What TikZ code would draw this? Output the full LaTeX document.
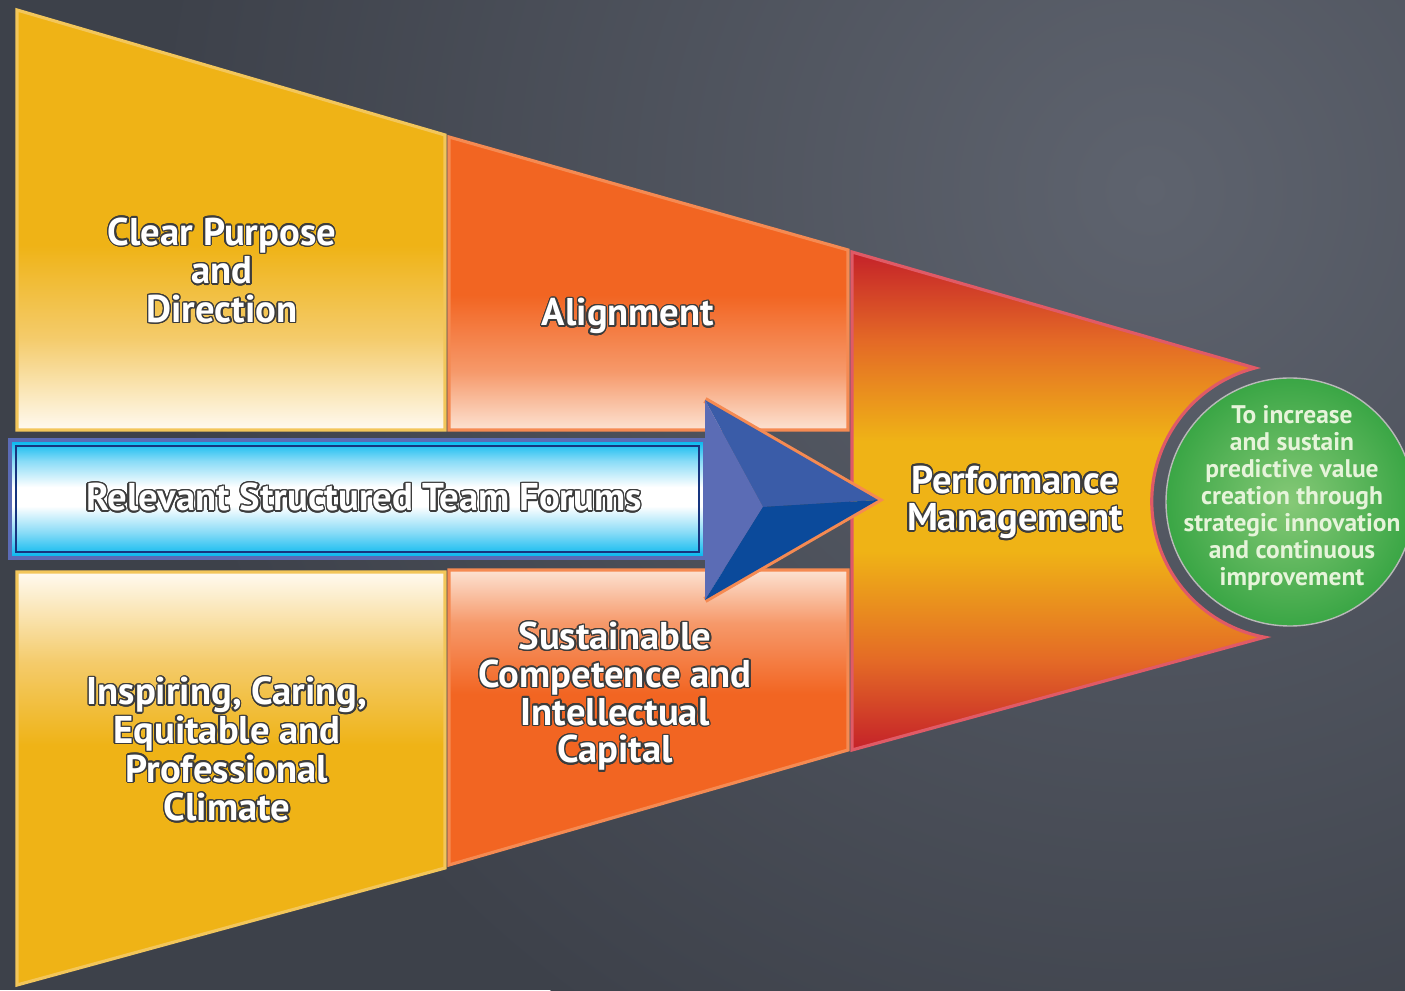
\documentclass[tikz,border=0pt]{standalone}
\usepackage{fontspec}
\setmainfont{PT Sans}
\usepackage[copies]{contour}
\contourlength{0.8pt}
\contournumber{20}
\usetikzlibrary{positioning,calc}

\definecolor{bgdark}{HTML}{3D414A}
\definecolor{bglight}{HTML}{5E636E}
\definecolor{gold}{HTML}{EFB316}
\definecolor{goldmid}{HTML}{F4CB6A}
\definecolor{goldedge}{HTML}{F3C65A}
\definecolor{cream}{HTML}{FFFAF0}
\definecolor{orng}{HTML}{F26522}
\definecolor{orngmid}{HTML}{F6996A}
\definecolor{peach}{HTML}{FCE2D2}
\definecolor{orngedge}{HTML}{F58A52}
\definecolor{redd}{HTML}{C42129}
\definecolor{redorng}{HTML}{E46A26}
\definecolor{redege}{HTML}{E05A66}
\definecolor{cyanb}{HTML}{00B6EE}
\definecolor{cyanl}{HTML}{8ADCF7}
\definecolor{navy}{HTML}{17357F}
\definecolor{arrowedge}{HTML}{5B6BB6}
\definecolor{facettop}{HTML}{3A5CA8}
\definecolor{facetleft}{HTML}{5B6CB5}
\definecolor{facetlow}{HTML}{0B4A9B}
\definecolor{greenlight}{HTML}{86C977}
\definecolor{greendark}{HTML}{3AA645}
\definecolor{greentext}{HTML}{E6F4DA}
\definecolor{textedge}{HTML}{3C3C3C}

\pgfdeclareverticalshading{goldtop}{100bp}{color(0bp)=(cream); color(25bp)=(cream); color(36bp)=(goldmid); color(47bp)=(gold); color(100bp)=(gold)}
\pgfdeclareverticalshading{goldbottom}{100bp}{color(0bp)=(gold); color(54bp)=(gold); color(64bp)=(goldmid); color(75bp)=(cream); color(100bp)=(cream)}
\pgfdeclareverticalshading{orangetop}{100bp}{color(0bp)=(peach); color(25bp)=(peach); color(35bp)=(orngmid); color(48bp)=(orng); color(100bp)=(orng)}
\pgfdeclareverticalshading{orangebottom}{100bp}{color(0bp)=(orng); color(54bp)=(orng); color(66bp)=(orngmid); color(75bp)=(peach); color(100bp)=(peach)}
\pgfdeclareverticalshading{perf}{100bp}{color(0bp)=(redd); color(25bp)=(redd); color(34bp)=(redorng); color(45bp)=(gold); color(56bp)=(gold); color(66bp)=(redorng); color(75bp)=(redd); color(100bp)=(redd)}
\pgfdeclareverticalshading{tube}{100bp}{color(0bp)=(cyanb); color(25bp)=(cyanb); color(36bp)=(cyanl); color(47bp)=(white); color(55bp)=(white); color(66bp)=(cyanl); color(75bp)=(cyanb); color(100bp)=(cyanb)}

\newcommand{\olt}[1]{\contour{textedge}{#1}}

\begin{document}
\begin{tikzpicture}[x=0.02cm,y=0.02cm,
panel text/.style={text=white,align=center,font=\bfseries\fontsize{22}{22}\selectfont},
big text/.style={text=white,align=center,font=\bfseries\fontsize{22}{21.5}\selectfont},
green text/.style={text=greentext,align=center,font=\bfseries\fontsize{14.5}{15.3}\selectfont},
gold edge/.style={draw=goldedge,line width=1.8pt},
orange edge/.style={draw=orngedge,line width=1.8pt}]
% background
  \fill[bgdark] (0,0) rectangle (1405,990);
  \begin{scope}
    \clip (0,0) rectangle (1405,990);
    \shade[inner color=bglight,outer color=bgdark] (1150,800) circle (1000);
  \end{scope}
  \useasboundingbox (0,0) rectangle (1405,990);
% panels
  \shadedraw[shading=goldtop,gold edge] (17,980) -- (445,855) -- (445,560) -- (17,560) -- cycle;
  \shadedraw[shading=goldbottom,gold edge] (17,418) -- (445,418) -- (445,122) -- (17,5) -- cycle;
  \shadedraw[shading=orangetop,orange edge] (449,853) -- (848,740) -- (848,560) -- (449,560) -- cycle;
  \shadedraw[shading=orangebottom,orange edge] (449,420) -- (848,420) -- (848,240) -- (449,125) -- cycle;
  \shadedraw[shading=perf,draw=redege,line width=1.8pt] (852,738) -- (1255,622)
    arc[start angle=104.6,end angle=259.5,radius=138] -- (852,240) -- cycle;
% arrow
  \shadedraw[shading=tube,draw=arrowedge,line width=2.2pt] (10,432) rectangle (705,550);
  \draw[navy,line width=1.2pt] (16,438) rectangle (699,544);
  \coordinate (hb) at (705,590);
  \coordinate (hc) at (705,390);
  \coordinate (tip) at (878,490);
  \coordinate (mid) at (763,483);
  \draw[orngedge,line width=3.5pt,line join=miter] (hb) -- (tip) -- (hc);
  \fill[facettop] (hb) -- (tip) -- (mid) -- cycle;
  \fill[facetleft] (hb) -- (mid) -- (hc) -- cycle;
  \fill[facetlow] (hc) -- (mid) -- (tip) -- cycle;
% goal
  \shadedraw[inner color=greenlight,outer color=greendark,draw=gray!55,line width=0.8pt] (1290,488) circle (124);
% texts
  \node[panel text] (purpose) at (222,719) {\olt{Clear Purpose}\\\olt{and}\\\olt{Direction}};
  \node[panel text] (align) at (628,673) {\olt{Alignment}};
  \node[panel text] (climate) at (227,240) {\olt{Inspiring, Caring,}\\\olt{Equitable and}\\\olt{Professional}\\\olt{Climate}};
  \node[big text] (capital) at (615,293) {\olt{Sustainable}\\\olt{Competence and}\\\olt{Intellectual}\\\olt{Capital}};
  \node[big text] (perform) at (1015,487) {\olt{Performance}\\\olt{Management}};
  \node[big text,font=\bfseries\fontsize{22}{22}\selectfont] (forums) at (364,492) {\olt{Relevant Structured Team Forums}};
  \node[green text] (goal) at (1292,492) {To increase\\and sustain\\predictive value\\creation through\\strategic innovation\\and continuous\\improvement};
\end{tikzpicture}
\end{document}
